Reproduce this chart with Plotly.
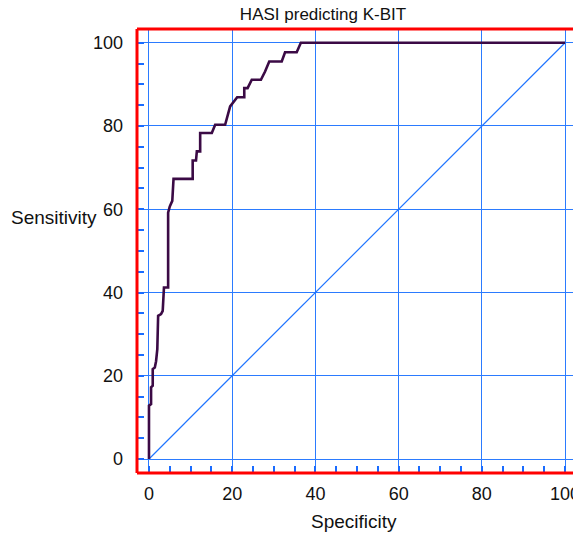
import plotly.graph_objects as go

# ROC curve points (x = 100 - Specificity, y = Sensitivity)
roc_x = [0, 0, 0.5, 0.5, 0.9, 0.9, 1.4, 1.7, 2.0, 2.2, 2.9, 3.3, 3.6, 4.6, 4.6, 5.0, 5.6, 5.9,
         10.5, 10.5, 11.3, 11.5, 12.3, 12.3, 15.1, 15.9, 18.3, 19.5, 21.2, 22.9, 22.9, 23.7,
         24.7, 26.9, 27.9, 28.9, 31.9, 32.7, 35.5, 36.5, 100]
roc_y = [0, 12.8, 13.2, 17.2, 17.6, 21.6, 22, 23.5, 26.4, 34.4, 34.8, 35.6, 41.2, 41.2, 59.2,
         60.7, 62, 67.3, 67.3, 71.7, 71.7, 73.9, 73.9, 78.3, 78.3, 80.3, 80.3, 84.7, 86.9,
         86.9, 89.1, 89.1, 91.1, 91.1, 93.1, 95.5, 95.5, 97.7, 97.7, 100, 100]

diag_x = [0, 100]
diag_y = [0, 100]

tick_vals = [0, 20, 40, 60, 80, 100]
tick_text = ["0", "20", "40", "60", "80", "100"]

title_text = "HASI predicting K-BIT"
x_title = "Specificity"
y_title = "Sensitivity"

GRID = "#2b7bff"
TICK = "#1a6cff"
CURVE = "#3b0a45"
FONT = "Liberation Sans, Arial, sans-serif"

fig = go.Figure()
fig.add_trace(go.Scatter(x=diag_x, y=diag_y, mode="lines",
                         line=dict(color="#1f74ff", width=1.2), hoverinfo="skip"))
fig.add_trace(go.Scatter(x=roc_x, y=roc_y, mode="lines",
                         line=dict(color=CURVE, width=2.6)))

axis_common = dict(
    tickmode="array", tickvals=tick_vals, ticktext=tick_text,
    showgrid=True, gridcolor=GRID, gridwidth=1,
    zeroline=False, showline=False,
    ticks="inside", ticklen=7, tickwidth=2, tickcolor=TICK,
    minor=dict(dtick=5, tick0=0, ticks="inside", ticklen=7, tickwidth=2,
               tickcolor=TICK, showgrid=False),
    tickfont=dict(family=FONT, size=18, color="#111"),
    ticklabeloverflow="allow",
    automargin=False,
    fixedrange=True,
)

fig.update_xaxes(range=[-2.88, 101.9], ticklabelstandoff=8, **axis_common)
fig.update_yaxes(range=[-3.36, 103.3], ticklabelstandoff=13, **axis_common)

fig.update_layout(
    width=573, height=535,
    margin=dict(l=137, r=0, t=29, b=62, autoexpand=False),
    paper_bgcolor="white", plot_bgcolor="white",
    showlegend=False,
    font=dict(family=FONT, color="#111"),
    title=dict(text=title_text, x=323 / 573, xref="container", xanchor="center",
               y=1 - 14 / 535, yref="container", yanchor="middle",
               font=dict(family=FONT, size=17, color="#111")),
    shapes=[
        dict(type="line", xref="paper", yref="paper", x0=0, x1=0, y0=0, y1=1,
             line=dict(color="#ff0000", width=3), layer="above"),
        dict(type="line", xref="paper", yref="paper", x0=0, x1=1.05, y0=1, y1=1,
             line=dict(color="#ff0000", width=3), layer="above"),
        dict(type="line", xref="paper", yref="paper", x0=0, x1=1.05, y0=0, y1=0,
             line=dict(color="#ff0000", width=3), layer="above"),
    ],
    annotations=[
        dict(text=y_title, xref="paper", yref="paper", x=(99 - 137) / 436,
             y=(473 - 217) / 444, xanchor="right", yanchor="middle", showarrow=False,
             font=dict(family=FONT, size=19, color="#111")),
        dict(text=x_title, xref="paper", yref="paper", x=(354 - 137) / 436,
             y=(473 - 521) / 444, xanchor="center", yanchor="middle", showarrow=False,
             font=dict(family=FONT, size=19, color="#111")),
    ],
)

fig.write_html("out.html",
               config={"displayModeBar": False},
               post_script="document.body.style.margin='0';document.body.style.overflow='hidden';")
